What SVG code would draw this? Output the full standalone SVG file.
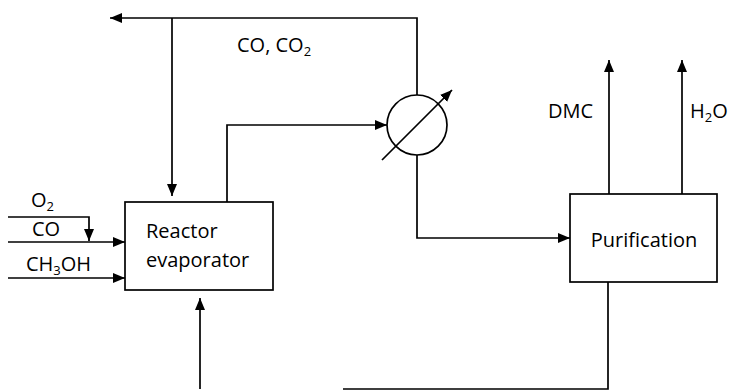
<svg xmlns="http://www.w3.org/2000/svg" width="729" height="391" viewBox="0 0 729 391">
<style>
.ln{fill:none;stroke:#000;stroke-width:1.7}
.bx{fill:#fff;stroke:#000;stroke-width:1.7}
.t{font-family:"Open Sans","Liberation Sans",sans-serif;font-size:20px;fill:#000}
.s{font-size:13px}
</style>
<defs>
<marker id="ah" viewBox="0 0 12 10" refX="12" refY="5" markerWidth="12" markerHeight="10" markerUnits="userSpaceOnUse" orient="auto">
<path d="M0,0 L12,5 L0,10 Z" fill="#000"/>
</marker>
</defs>
<rect width="729" height="391" fill="#fff"/>
<g id="connectors">
<path class="ln" d="M417,95 V18 H110" marker-end="url(#ah)"/>
<path class="ln" d="M172,18 V196" marker-end="url(#ah)"/>
<path class="ln" d="M227,202 V125 H387" marker-end="url(#ah)"/>
<path class="ln" d="M417,155 V238 H570" marker-end="url(#ah)"/>
<path class="ln" d="M609,194 V60" marker-end="url(#ah)"/>
<path class="ln" d="M682,194 V60" marker-end="url(#ah)"/>
<path class="ln" d="M608,282 V389 H343"/>
<path class="ln" d="M200,389 V298" marker-end="url(#ah)"/>
<path class="ln" d="M8,217 H89 V241" marker-end="url(#ah)"/>
<path class="ln" d="M8,242 H125" marker-end="url(#ah)"/>
<path class="ln" d="M8,278 H125" marker-end="url(#ah)"/>
<text class="t" x="237" y="52">CO, CO<tspan class="s" dy="4">2</tspan></text>
<text class="t" x="548" y="118">DMC</text>
<text class="t" x="690" y="118">H<tspan class="s" dy="4">2</tspan><tspan dy="-4">O</tspan></text>
<text class="t" x="31" y="207">O<tspan class="s" dy="4">2</tspan></text>
<text class="t" x="32" y="236">CO</text>
<text class="t" x="26" y="271">CH<tspan class="s" dy="4">3</tspan><tspan dy="-4">OH</tspan></text>
</g>
<g id="reactor">
<rect class="bx" x="125" y="202" width="148" height="88"/>
<text class="t" x="146" y="238">Reactor</text>
<text class="t" x="146" y="267">evaporator</text>
</g>
<g id="heat-exchanger">
<circle class="bx" cx="417" cy="125" r="30"/>
<path class="ln" d="M382,160 L452,90" marker-end="url(#ah)"/>
</g>
<g id="purification">
<rect class="bx" x="570" y="194" width="147" height="88"/>
<text class="t" x="644" y="247" text-anchor="middle">Purification</text>
</g>
</svg>
